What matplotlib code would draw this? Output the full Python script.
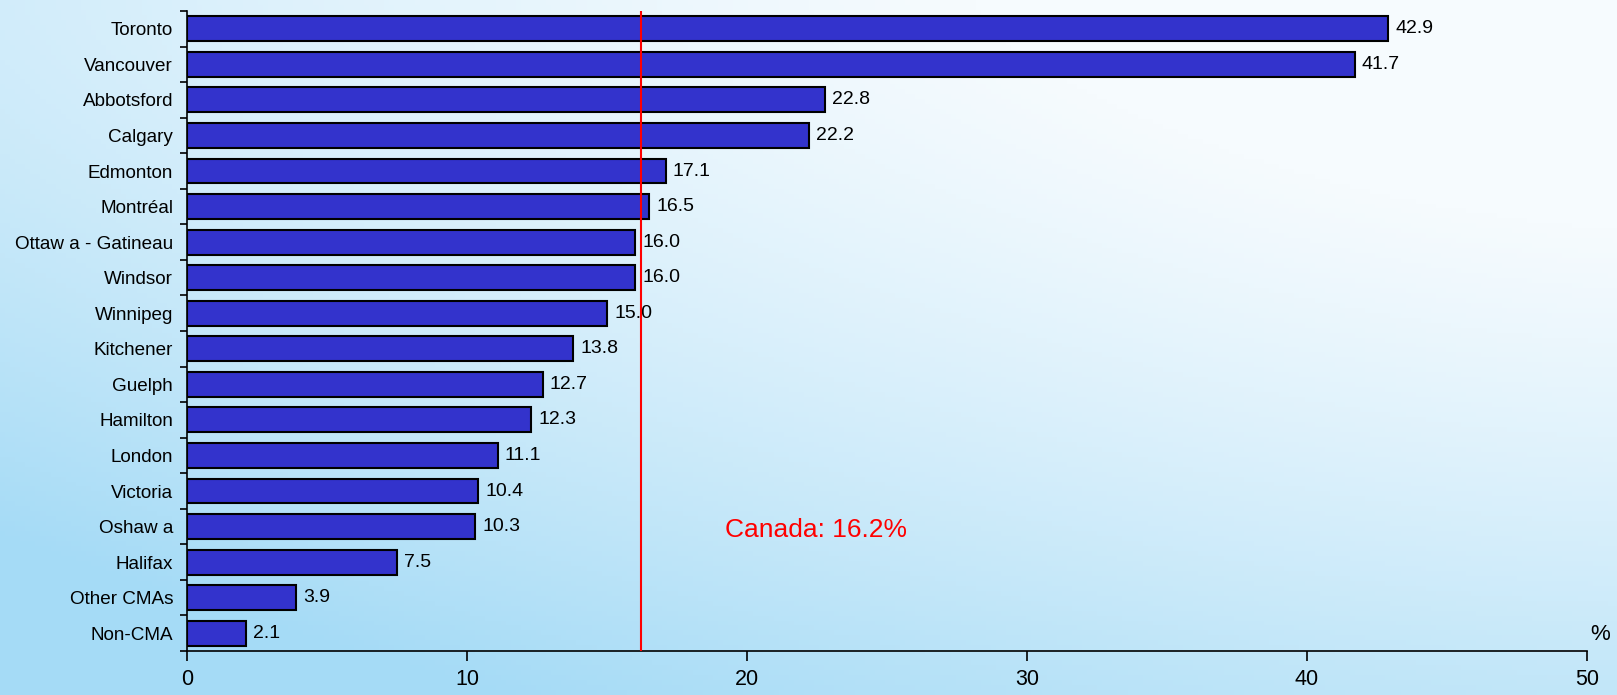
import numpy as np
import matplotlib
matplotlib.use("Agg")
import matplotlib.pyplot as plt

plt.rcParams['font.family'] = ['Liberation Sans', 'DejaVu Sans']

# données : part de la population (%)
cities = ["Toronto", "Vancouver", "Abbotsford", "Calgary", "Edmonton", "Montréal",
          "Ottaw a - Gatineau", "Windsor", "Winnipeg", "Kitchener", "Guelph",
          "Hamilton", "London", "Victoria", "Oshaw a", "Halifax", "Other CMAs", "Non-CMA"]
values = [42.9, 41.7, 22.8, 22.2, 17.1, 16.5, 16.0, 16.0, 15.0, 13.8, 12.7,
          12.3, 11.1, 10.4, 10.3, 7.5, 3.9, 2.1]
canada = 16.2
xticks = [0, 10, 20, 30, 40, 50]

fig = plt.figure(figsize=(16.17, 6.95), dpi=100)

# fond bleu clair en dégradé
bg = fig.add_axes([0, 0, 1, 1], zorder=-10)
h, w = 140, 320
yy, xx = np.mgrid[0:1:h * 1j, 0:1:w * 1j]
d = np.clip(0.6 * (1 - xx) ** 1.5 + 0.8 * yy ** 1.5 - 0.15, 0, 1)
top = np.array([246, 251, 254]) / 255
low = np.array([165, 219, 246]) / 255
img = top[None, None, :] * (1 - d[..., None]) + low[None, None, :] * d[..., None]
bg.imshow(img, aspect='auto', extent=[0, 1, 0, 1], origin='upper')
bg.axis('off')

ax = fig.add_axes([187 / 1617, 1 - 651 / 695, 1400 / 1617, 640 / 695])
ax.patch.set_alpha(0)

y = np.arange(len(cities))
ax.barh(y, values, height=0.7, color='#3333cc', edgecolor='black', linewidth=1.5, zorder=2)
for yi, v in zip(y, values):
    ax.text(v + 0.25, yi, f"{v:.1f}", va='center', ha='left', fontsize=14, zorder=3)

ax.axvline(canada, color='red', linewidth=1.5, zorder=4)
ax.text(19.2, 14.1, "Canada: 16.2%", color='red', fontsize=19, va='center', ha='left')

ax.set_xlim(0, 50)
ax.set_ylim(len(cities) - 0.5, -0.5)
ax.set_xticks(xticks)
ax.set_xticklabels([str(t) for t in xticks], fontsize=15.5)
ax.tick_params(axis='x', length=7, width=1.2, pad=6)

# ticks aux limites entre catégories, étiquettes au centre
ax.set_yticks(np.arange(len(cities) + 1) - 0.5)
ax.set_yticklabels([])
ax.set_yticks(y, minor=True)
ax.set_yticklabels(cities, minor=True, fontsize=13.6)
ax.tick_params(axis='y', which='major', length=5, width=1.2)
ax.tick_params(axis='y', which='minor', length=0, pad=10)

for s in ['top', 'right']:
    ax.spines[s].set_visible(False)
for s in ['left', 'bottom']:
    ax.spines[s].set_linewidth(1.2)

fig.text(1600 / 1617, 1 - 634 / 695, "%", fontsize=16, ha='center', va='center')

fig.savefig("out.png", dpi=100)
